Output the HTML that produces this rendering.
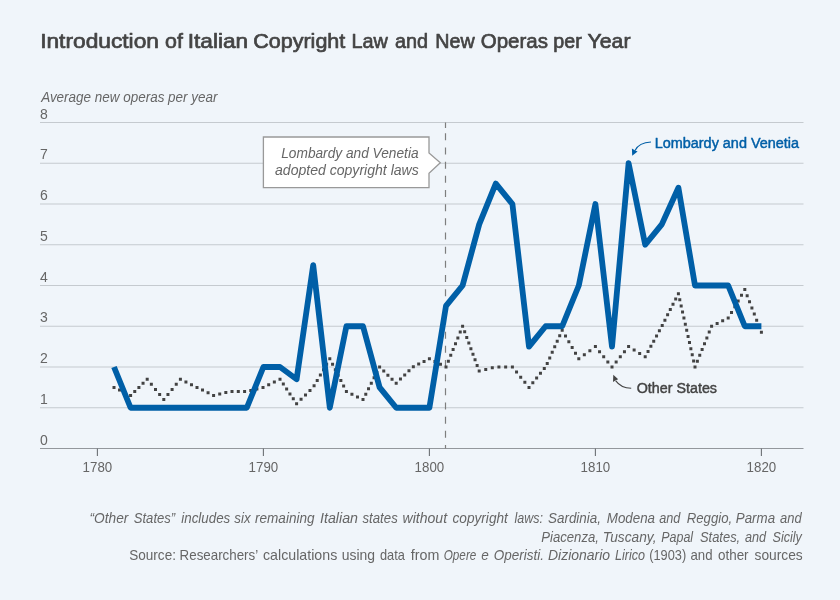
<!DOCTYPE html>
<html><head><meta charset="utf-8"><title>Introduction of Italian Copyright Law and New Operas per Year</title>
<style>html,body{margin:0;padding:0;background:#f0f5fa;}svg{display:block}</style></head>
<body>
<svg width="840" height="600" viewBox="0 0 840 600" font-family="'Liberation Sans', sans-serif">
<rect width="840" height="600" fill="#f0f5fa"/>
<text y="48.0" font-size="21" fill="#444" stroke="#444" stroke-width="0.7" stroke-linejoin="round"><tspan x="40.17" textLength="118.82" lengthAdjust="spacingAndGlyphs">Introduction</tspan> <tspan x="165.00" textLength="17.83" lengthAdjust="spacingAndGlyphs">of</tspan> <tspan x="187.67" textLength="60.56" lengthAdjust="spacingAndGlyphs">Italian</tspan> <tspan x="253.23" textLength="92.11" lengthAdjust="spacingAndGlyphs">Copyright</tspan> <tspan x="351.55" textLength="36.41" lengthAdjust="spacingAndGlyphs">Law</tspan> <tspan x="395.00" textLength="33.14" lengthAdjust="spacingAndGlyphs">and</tspan> <tspan x="435.31" textLength="39.41" lengthAdjust="spacingAndGlyphs">New</tspan> <tspan x="480.77" textLength="67.21" lengthAdjust="spacingAndGlyphs">Operas</tspan> <tspan x="553.31" textLength="28.43" lengthAdjust="spacingAndGlyphs">per</tspan> <tspan x="587.50" textLength="42.99" lengthAdjust="spacingAndGlyphs">Year</tspan></text>
<text y="102" font-size="14" fill="#666" font-style="italic"><tspan x="41.16" textLength="176.35" lengthAdjust="spacingAndGlyphs">Average new operas per year</tspan></text>
<line x1="40" x2="803.5" y1="407.75" y2="407.75" stroke="#c5cacf" stroke-width="1"/>
<line x1="40" x2="803.5" y1="367.00" y2="367.00" stroke="#c5cacf" stroke-width="1"/>
<line x1="40" x2="803.5" y1="326.25" y2="326.25" stroke="#c5cacf" stroke-width="1"/>
<line x1="40" x2="803.5" y1="285.50" y2="285.50" stroke="#c5cacf" stroke-width="1"/>
<line x1="40" x2="803.5" y1="244.75" y2="244.75" stroke="#c5cacf" stroke-width="1"/>
<line x1="40" x2="803.5" y1="204.00" y2="204.00" stroke="#c5cacf" stroke-width="1"/>
<line x1="40" x2="803.5" y1="163.25" y2="163.25" stroke="#c5cacf" stroke-width="1"/>
<line x1="40" x2="803.5" y1="122.50" y2="122.50" stroke="#c5cacf" stroke-width="1"/>
<text x="40" y="444.50" font-size="14" fill="#666">0</text>
<text x="40" y="403.75" font-size="14" fill="#666">1</text>
<text x="40" y="363.00" font-size="14" fill="#666">2</text>
<text x="40" y="322.25" font-size="14" fill="#666">3</text>
<text x="40" y="281.50" font-size="14" fill="#666">4</text>
<text x="40" y="240.75" font-size="14" fill="#666">5</text>
<text x="40" y="200.00" font-size="14" fill="#666">6</text>
<text x="40" y="159.25" font-size="14" fill="#666">7</text>
<text x="40" y="118.50" font-size="14" fill="#666">8</text>
<line x1="40" x2="803.5" y1="448.5" y2="448.5" stroke="#93979c" stroke-width="1.15"/>
<line x1="97.40" x2="97.40" y1="448.5" y2="455.9" stroke="#6c7074" stroke-width="1.1"/>
<text x="97.40" y="471.8" font-size="14" fill="#666" text-anchor="middle" textLength="29.6" lengthAdjust="spacingAndGlyphs">1780</text>
<line x1="263.40" x2="263.40" y1="448.5" y2="455.9" stroke="#6c7074" stroke-width="1.1"/>
<text x="263.40" y="471.8" font-size="14" fill="#666" text-anchor="middle" textLength="29.6" lengthAdjust="spacingAndGlyphs">1790</text>
<line x1="429.40" x2="429.40" y1="448.5" y2="455.9" stroke="#6c7074" stroke-width="1.1"/>
<text x="429.40" y="471.8" font-size="14" fill="#666" text-anchor="middle" textLength="29.6" lengthAdjust="spacingAndGlyphs">1800</text>
<line x1="595.40" x2="595.40" y1="448.5" y2="455.9" stroke="#6c7074" stroke-width="1.1"/>
<text x="595.40" y="471.8" font-size="14" fill="#666" text-anchor="middle" textLength="29.6" lengthAdjust="spacingAndGlyphs">1810</text>
<line x1="761.40" x2="761.40" y1="448.5" y2="455.9" stroke="#6c7074" stroke-width="1.1"/>
<text x="761.40" y="471.8" font-size="14" fill="#666" text-anchor="middle" textLength="29.6" lengthAdjust="spacingAndGlyphs">1820</text>
<line x1="445.5" x2="445.5" y1="122.5" y2="128" stroke="#7e7e7e" stroke-width="1.2"/>
<line x1="445.5" x2="445.5" y1="133.3" y2="448.5" stroke="#7e7e7e" stroke-width="1.2" stroke-dasharray="7 7.17"/>
<path d="M112.50 387.38h3.0M118.03 390.09h3.0M123.57 392.81h3.0M129.10 395.52h3.0M133.25 391.45h3.0M137.40 387.38h3.0M141.55 383.30h3.0M145.70 379.23h3.0M149.85 384.32h3.0M154.00 389.41h3.0M158.15 394.51h3.0M162.30 399.60h3.0M166.45 394.51h3.0M170.60 389.41h3.0M174.75 384.32h3.0M178.90 379.23h3.0M184.43 381.94h3.0M189.97 384.66h3.0M195.50 387.38h3.0M201.03 390.09h3.0M206.57 392.81h3.0M212.10 395.52h3.0M218.22 394.02h3.0M224.33 392.52h3.0M230.50 391.45h3.0M236.80 391.45h3.0M243.10 391.45h3.0M249.28 390.47h3.0M255.39 388.97h3.0M261.51 387.47h3.0M267.19 384.78h3.0M272.85 382.00h3.0M278.50 379.23h3.0M281.82 384.12h3.0M285.14 389.00h3.0M288.46 393.90h3.0M291.78 398.79h3.0M295.10 403.68h3.0M299.56 399.29h3.0M304.02 394.91h3.0M308.48 390.53h3.0M312.58 385.87h3.0M315.72 380.46h3.0M318.87 375.06h3.0M322.01 369.66h3.0M325.16 364.25h3.0M328.30 358.85h3.0M331.07 364.28h3.0M333.83 369.72h3.0M336.60 375.15h3.0M339.37 380.58h3.0M342.13 386.02h3.0M344.90 391.45h3.0M350.43 394.17h3.0M355.97 396.88h3.0M361.50 399.60h3.0M364.27 394.17h3.0M367.03 388.73h3.0M369.80 383.30h3.0M372.57 377.87h3.0M375.33 372.43h3.0M378.10 367.00h3.0M382.25 371.07h3.0M386.40 375.15h3.0M390.55 379.23h3.0M394.70 383.30h3.0M398.96 379.12h3.0M403.21 374.94h3.0M407.47 370.76h3.0M411.84 366.74h3.0M417.19 364.11h3.0M422.55 361.48h3.0M427.90 358.85h3.0M433.43 361.57h3.0M438.97 364.28h3.0M444.50 367.00h3.0M446.87 361.18h3.0M449.24 355.36h3.0M451.61 349.54h3.0M453.99 343.71h3.0M456.36 337.89h3.0M458.73 332.07h3.0M461.10 326.25h3.0M463.18 331.85h3.0M465.25 337.46h3.0M467.33 343.06h3.0M469.40 348.66h3.0M471.48 354.27h3.0M473.55 359.87h3.0M475.63 365.47h3.0M477.70 371.07h3.0M484.24 369.47h3.0M490.79 367.86h3.0M497.42 367.00h3.0M504.16 367.00h3.0M510.90 367.00h3.0M515.05 372.09h3.0M519.20 377.19h3.0M523.35 382.28h3.0M527.50 387.38h3.0M531.32 382.69h3.0M535.14 378.00h3.0M538.96 373.31h3.0M542.78 368.62h3.0M545.73 363.39h3.0M548.23 357.88h3.0M550.72 352.37h3.0M553.22 346.86h3.0M555.71 341.35h3.0M558.21 335.84h3.0M560.70 330.32h3.0M564.02 336.03h3.0M567.34 341.74h3.0M570.66 347.44h3.0M573.98 353.15h3.0M577.30 358.85h3.0M582.83 354.78h3.0M588.37 350.70h3.0M593.90 346.62h3.0M598.05 351.72h3.0M602.20 356.81h3.0M606.35 361.91h3.0M610.50 367.00h3.0M614.65 361.91h3.0M618.80 356.81h3.0M622.95 351.72h3.0M627.10 346.62h3.0M632.63 350.02h3.0M638.17 353.42h3.0M643.70 356.81h3.0M646.54 351.59h3.0M649.38 346.36h3.0M652.22 341.14h3.0M655.05 335.91h3.0M657.89 330.68h3.0M660.71 325.45h3.0M663.41 320.15h3.0M666.11 314.85h3.0M668.80 309.55h3.0M671.50 304.25h3.0M674.20 298.95h3.0M676.90 293.65h3.0M678.28 299.76h3.0M679.67 305.88h3.0M681.05 311.99h3.0M682.43 318.10h3.0M683.82 324.21h3.0M685.20 330.32h3.0M686.58 336.44h3.0M687.97 342.55h3.0M689.35 348.66h3.0M690.73 354.77h3.0M692.12 360.89h3.0M693.50 367.00h3.0M695.87 361.18h3.0M698.24 355.36h3.0M700.61 349.54h3.0M702.99 343.71h3.0M705.36 337.89h3.0M707.73 332.07h3.0M710.10 326.25h3.0M715.63 323.53h3.0M721.17 320.82h3.0M726.70 318.10h3.0M730.02 312.40h3.0M733.34 306.69h3.0M736.66 300.99h3.0M739.98 295.28h3.0M743.30 289.58h3.0M745.67 295.69h3.0M748.04 301.80h3.0M750.41 307.91h3.0M752.79 314.03h3.0M755.16 320.14h3.0M757.53 326.25h3.0M759.90 332.36h3.0" fill="none" stroke="#424242" stroke-width="3.0"/>
<polyline points="114.00,367.00 130.60,407.75 147.20,407.75 163.80,407.75 180.40,407.75 197.00,407.75 213.60,407.75 230.20,407.75 246.80,407.75 263.40,367.00 280.00,367.00 296.60,379.23 313.20,265.12 329.80,407.75 346.40,326.25 363.00,326.25 379.60,387.38 396.20,407.75 412.80,407.75 429.40,407.75 446.00,305.88 462.60,285.50 479.20,224.38 495.80,183.62 512.40,204.00 529.00,346.62 545.60,326.25 562.20,326.25 578.80,285.50 595.40,204.00 612.00,346.62 628.60,163.25 645.20,244.75 661.80,224.38 678.40,187.70 695.00,285.50 711.60,285.50 728.20,285.50 744.80,326.25 761.40,326.25" fill="none" stroke="#005fa7" stroke-width="5.8" stroke-linejoin="round" stroke-linecap="butt"/>
<path d="M263.4 137H429V153L440.3 162.8L429 173.2V187.6H263.4Z" fill="#fff" stroke="#999" stroke-width="1.3"/>
<text y="158" font-size="14" fill="#666" font-style="italic"><tspan x="281.25" textLength="137.29" lengthAdjust="spacingAndGlyphs">Lombardy and Venetia</tspan></text>
<text y="175" font-size="14" fill="#666" font-style="italic"><tspan x="275.00" textLength="143.75" lengthAdjust="spacingAndGlyphs">adopted copyright laws</tspan></text>
<text y="147.5" font-size="14" fill="#005fa7" stroke="#005fa7" stroke-width="0.45" stroke-linejoin="round"><tspan x="654.72" textLength="144.31" lengthAdjust="spacingAndGlyphs">Lombardy and Venetia</tspan></text>
<path d="M651 142C643 142.3 637.5 145.5 635 150.5" fill="none" stroke="#005fa7" stroke-width="1.1"/>
<path d="M632.2 155.8L631.9 148.6L635.2 150.6L637.6 151.6Z" fill="#005fa7"/>
<text y="392.5" font-size="14" fill="#444" stroke="#444" stroke-width="0.45" stroke-linejoin="round"><tspan x="636.75" textLength="80.25" lengthAdjust="spacingAndGlyphs">Other States</tspan></text>
<path d="M631.2 388.3C625 388.2 619.5 386 615.6 380.6" fill="none" stroke="#444" stroke-width="1.1"/>
<path d="M613.3 374.8L618.2 379.3L615.7 380.2L613 381.9Z" fill="#444"/>
<text y="523.3" font-size="14.5" fill="#666" font-style="italic"><tspan x="89.55" textLength="38.84" lengthAdjust="spacingAndGlyphs">“Other</tspan> <tspan x="133.75" textLength="41.44" lengthAdjust="spacingAndGlyphs">States”</tspan> <tspan x="181.25" textLength="48.98" lengthAdjust="spacingAndGlyphs">includes</tspan> <tspan x="234.25" textLength="16.31" lengthAdjust="spacingAndGlyphs">six</tspan> <tspan x="255.00" textLength="59.56" lengthAdjust="spacingAndGlyphs">remaining</tspan> <tspan x="320.00" textLength="38.06" lengthAdjust="spacingAndGlyphs">Italian</tspan> <tspan x="362.50" textLength="35.23" lengthAdjust="spacingAndGlyphs">states</tspan> <tspan x="402.50" textLength="44.56" lengthAdjust="spacingAndGlyphs">without</tspan> <tspan x="452.50" textLength="55.34" lengthAdjust="spacingAndGlyphs">copyright</tspan> <tspan x="514.50" textLength="28.52" lengthAdjust="spacingAndGlyphs">laws:</tspan> <tspan x="548.00" textLength="52.95" lengthAdjust="spacingAndGlyphs">Sardinia,</tspan> <tspan x="606.75" textLength="48.31" lengthAdjust="spacingAndGlyphs">Modena</tspan> <tspan x="659.25" textLength="21.18" lengthAdjust="spacingAndGlyphs">and</tspan> <tspan x="686.75" textLength="45.44" lengthAdjust="spacingAndGlyphs">Reggio,</tspan> <tspan x="735.75" textLength="39.31" lengthAdjust="spacingAndGlyphs">Parma</tspan> <tspan x="780.00" textLength="21.66" lengthAdjust="spacingAndGlyphs">and</tspan></text>
<text y="541.6" font-size="14.5" fill="#666" font-style="italic"><tspan x="541.25" textLength="57.68" lengthAdjust="spacingAndGlyphs">Piacenza,</tspan> <tspan x="602.80" textLength="53.67" lengthAdjust="spacingAndGlyphs">Tuscany,</tspan> <tspan x="661.25" textLength="31.83" lengthAdjust="spacingAndGlyphs">Papal</tspan> <tspan x="700.00" textLength="40.17" lengthAdjust="spacingAndGlyphs">States,</tspan> <tspan x="745.00" textLength="21.18" lengthAdjust="spacingAndGlyphs">and</tspan> <tspan x="772.50" textLength="29.35" lengthAdjust="spacingAndGlyphs">Sicily</tspan></text>
<text y="559.8" font-size="14.5" fill="#666"><tspan x="129.25" textLength="46.71" lengthAdjust="spacingAndGlyphs">Source:</tspan> <tspan x="179.59" textLength="78.12" lengthAdjust="spacingAndGlyphs">Researchers’</tspan> <tspan x="263.00" textLength="74.24" lengthAdjust="spacingAndGlyphs">calculations</tspan> <tspan x="341.75" textLength="33.31" lengthAdjust="spacingAndGlyphs">using</tspan> <tspan x="380.00" textLength="24.92" lengthAdjust="spacingAndGlyphs">data</tspan> <tspan x="410.75" textLength="28.58" lengthAdjust="spacingAndGlyphs">from</tspan> <tspan x="443.75" textLength="32.55" lengthAdjust="spacingAndGlyphs" font-style="italic">Opere</tspan> <tspan x="481.25" textLength="7.56" lengthAdjust="spacingAndGlyphs" font-style="italic">e</tspan> <tspan x="493.75" textLength="50.21" lengthAdjust="spacingAndGlyphs" font-style="italic">Operisti.</tspan> <tspan x="548.00" textLength="62.06" lengthAdjust="spacingAndGlyphs" font-style="italic">Dizionario</tspan> <tspan x="615.00" textLength="30.06" lengthAdjust="spacingAndGlyphs" font-style="italic">Lirico</tspan> <tspan x="649.25" textLength="36.98" lengthAdjust="spacingAndGlyphs">(1903)</tspan> <tspan x="690.50" textLength="22.06" lengthAdjust="spacingAndGlyphs">and</tspan> <tspan x="718.00" textLength="30.59" lengthAdjust="spacingAndGlyphs">other</tspan> <tspan x="754.50" textLength="48.24" lengthAdjust="spacingAndGlyphs">sources</tspan></text>
</svg>
</body></html>
